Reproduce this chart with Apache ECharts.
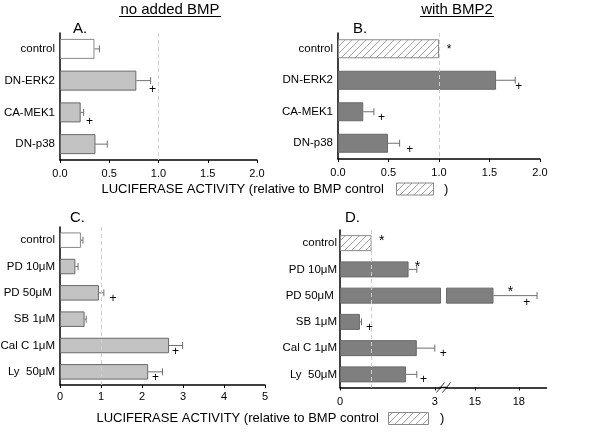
<!DOCTYPE html>
<html><head><meta charset="utf-8">
<script src="https://cdn.jsdelivr.net/npm/echarts@6/dist/echarts.min.js"></script>
<style>html,body{margin:0;padding:0;background:#fff}#c{width:600px;height:433px}</style>
</head><body><div id="c"></div>
<script>
// ---------- data ----------
const catsAB = ['control', 'DN-ERK2', 'CA-MEK1', 'DN-p38'];
const valA  = [0.35, 0.775, 0.21, 0.36];
const errA  = [0.05, 0.145, 0.03, 0.12];
const plusA = [null, 0.94, 0.30, null];

const valB  = [1.0, 1.565, 0.25, 0.495];
const errB  = [0, 0.19, 0.105, 0.115];
const plusB = [null, 1.79, 0.43, 0.71];
const starB = [1.10, null, null, null];

const catsCD = ['control', 'PD 10\u03bcM', 'PD 50\u03bcM ', 'SB 1\u03bcM', 'Cal C 1\u03bcM', 'Ly  50\u03bcM'];
const valC  = [0.51, 0.375, 0.95, 0.60, 2.66, 2.15];
const errC  = [0.05, 0.065, 0.12, 0.04, 0.33, 0.35];
const plusC = [null, null, 1.29, null, 2.82, 2.33];

const valD  = [1.0, 2.17, 16.27, 0.63, 2.43, 2.09];
const errD  = [0, 0.26, 2.98, 0.05, 0.57, 0.34];
const plusD = [null, null, 18.54, 0.93, 3.27, 2.64];
const starD = [1.32, 2.45, 17.43, null, null, null];

const ticksA = [0, 0.5, 1.0, 1.5, 2.0];
const ticksC = [0, 1, 2, 3, 4, 5];
const ticksD1 = [0, 3];
const ticksD2 = [15, 18];
const breakLow = 3.18, breakHigh = 13.05, axisEndD = 19.9;

// ---------- style ----------
const FF = 'Liberation Sans, Arial, Helvetica, sans-serif';
const LIGHT = '#c3c3c3', DARK = '#7f7f7f', EDGE = '#6a6a6a', ERR = '#6f6f6f';

function hatch(step) {
  const c = document.createElement('canvas');
  c.width = step; c.height = step;
  const g = c.getContext('2d');
  g.fillStyle = '#fff'; g.fillRect(0, 0, step, step);
  g.strokeStyle = '#8c8c8c'; g.lineWidth = 0.8;
  g.beginPath();
  g.moveTo(0, step); g.lineTo(step, 0);
  g.moveTo(-1, 1); g.lineTo(1, -1);
  g.moveTo(step - 1, step + 1); g.lineTo(step + 1, step - 1);
  g.stroke();
  return c;
}
const hatchCanvas = hatch(7);
const hatchFill = { image: hatchCanvas, repeat: 'repeat' };

const L = {
  A: { left: 60, top: 33, width: 197, height: 127 },
  B: { left: 338, top: 33, width: 202, height: 126 },
  C: { left: 60, top: 227, width: 205, height: 158 },
  D1: { left: 340, top: 230, width: 100.5, height: 157.5 },
  D2: { left: 446.5, top: 230, width: 100, height: 157.5 }
};

const grids = ['A', 'B', 'C', 'D1', 'D2'].map(k => Object.assign({ outerBoundsMode: 'none', containLabel: false }, L[k]));

function xAxis(gi, min, max, ticks, fmt, margin) {
  return {
    type: 'value', gridIndex: gi, min: min, max: max,
    axisLine: { show: true, lineStyle: { color: '#000', width: 1.5 } },
    axisTick: { show: true, length: 3, lineStyle: { color: '#000' }, customValues: ticks },
    axisLabel: { customValues: ticks, formatter: fmt, color: '#000', fontSize: 11, fontFamily: FF, margin: margin },
    splitLine: { show: false }
  };
}
function yAxis(gi, cats, show, margin) {
  return {
    type: 'category', gridIndex: gi, data: cats, inverse: true, show: show,
    axisLine: { show: true, onZero: false, lineStyle: { color: '#000', width: 1.5 } },
    axisTick: { show: false },
    axisLabel: { color: '#000', fontSize: 11.5, fontFamily: FF, margin: margin }
  };
}

function barData(vals, firstStyle, fill, only) {
  return vals.map((v, i) => {
    if (only !== undefined && i !== only) return '-';
    if (i === 0) return { value: v, itemStyle: firstStyle };
    return { value: v, itemStyle: { color: fill, borderColor: EDGE, borderWidth: 1 } };
  });
}
function barSeries(gi, data, width, dashed) {
  const s = {
    type: 'bar', xAxisIndex: gi, yAxisIndex: gi, data: data, barWidth: width, clip: true, z: 2,
    silent: true, animation: false
  };
  if (dashed) {
    s.markLine = {
      silent: true, symbol: 'none', label: { show: false },
      lineStyle: { type: [4, 3], color: '#cfcfcf', width: 1 },
      data: [{ xAxis: 1 }]
    };
  }
  return s;
}
function errSeries(gi, vals, errs, only, skip) {
  const data = [];
  vals.forEach((v, i) => {
    if (!(errs[i] > 0)) return;
    if (only !== undefined && i !== only) return;
    if (skip !== undefined && i === skip) return;
    data.push([v, errs[i], i]);
  });
  return {
    type: 'custom', xAxisIndex: gi, yAxisIndex: gi, data: data, z: 3, silent: true, animation: false,
    clip: false,
    encode: { x: 0, y: 2 },
    renderItem: function (params, api) {
      const v = api.value(0), e = api.value(1), c = api.value(2);
      const p0 = api.coord([v, c]);
      const p1 = api.coord([v + e, c]);
      const st = { stroke: ERR, lineWidth: 1 };
      return { type: 'group', children: [
        { type: 'line', shape: { x1: p0[0], y1: p0[1], x2: p1[0], y2: p1[1] }, style: st },
        { type: 'line', shape: { x1: p1[0], y1: p1[1] - 3.5, x2: p1[0], y2: p1[1] + 3.5 }, style: st }
      ] };
    }
  };
}
function markSeries(gi, xs, ch, dy, size, only, skip) {
  const data = [];
  xs.forEach((x, i) => {
    if (x === null) return;
    if (only !== undefined && i !== only) return;
    if (skip !== undefined && i === skip) return;
    data.push([x, i]);
  });
  return {
    type: 'custom', xAxisIndex: gi, yAxisIndex: gi, data: data, z: 4, silent: true, animation: false,
    clip: false, encode: { x: 0, y: 1 },
    renderItem: function (params, api) {
      const p = api.coord([api.value(0), api.value(1)]);
      return { type: 'text', x: p[0], y: p[1] + dy,
        style: { text: ch, fill: '#000', fontSize: size, fontFamily: FF, align: 'center', verticalAlign: 'middle' } };
    }
  };
}

const whiteFirst = { color: '#fff', borderColor: '#888', borderWidth: 1 };
const hatchFirst = { color: hatchFill, borderColor: '#8a8a8a', borderWidth: 1 };
const fmt1 = v => v.toFixed(1);
const fmt0 = v => String(Math.round(v));

const series = [
  barSeries(0, barData(valA, whiteFirst, LIGHT), 20, true),
  errSeries(0, valA, errA),
  markSeries(0, plusA, '+', 9, 12),

  barSeries(1, barData(valB, hatchFirst, DARK), 19, true),
  errSeries(1, valB, errB),
  markSeries(1, plusB, '+', 6, 12),
  markSeries(1, starB, '*', 1, 12),

  barSeries(2, barData(valC, whiteFirst, LIGHT), 15.5, true),
  errSeries(2, valC, errC),
  markSeries(2, plusC, '+', 6, 12),

  barSeries(3, barData(valD, hatchFirst, DARK), 16, true),
  errSeries(3, valD, errD, undefined, 2),
  markSeries(3, plusD, '+', 5.5, 12, undefined, 2),
  markSeries(3, starD, '*', -2, 14, undefined, 2),

  barSeries(4, barData(valD, hatchFirst, DARK, 2), 16, false),
  errSeries(4, valD, errD, 2),
  markSeries(4, plusD, '+', 7, 12, 2),
  markSeries(4, starD, '*', -3, 14, 2)
];

// ---------- decorations (text, titles) ----------
function t(text, x, y, size, align) {
  return { type: 'text', x: x, y: y, silent: true,
    style: { text: text, fill: '#000', fontSize: size, fontFamily: FF, align: align || 'left', verticalAlign: 'middle' } };
}
function hline(x1, x2, y, w) {
  return { type: 'line', silent: true, shape: { x1: x1, y1: y, x2: x2, y2: y }, style: { stroke: '#000', lineWidth: w || 1 } };
}
function axisTitle(x, y, boxX, boxW, parenX) {
  return [
    t('LUCIFERASE ACTIVITY (relative to BMP control', x, y, 13),
    { type: 'rect', silent: true, shape: { x: boxX, y: y - 6, width: boxW, height: 12 },
      style: { fill: hatchFill, stroke: '#8a8a8a', lineWidth: 1 } },
    t(')', parenX, y, 13)
  ];
}
const axisY = L.D1.top + L.D1.height;
const gapL = L.D1.left + L.D1.width, gapR = L.D2.left;
const gapC = (gapL + gapR) / 2;

const graphic = [].concat(
  [t('no added BMP', 170, 9.5, 15, 'center'), hline(119, 221, 16.5, 1),
   t('with BMP2', 457, 9.5, 15, 'center'), hline(420, 494, 16.5, 1),
   t('A.', 73, 29, 15), t('B.', 353, 29, 15), t('C.', 70, 218, 15), t('D.', 345, 218, 15)],
  axisTitle(101.5, 189, 396.5, 37, 444),
  axisTitle(96.5, 418.5, 388.5, 40, 440),
  [hline(gapL - 1, gapR + 1, axisY, 1.5),
   { type: 'line', silent: true, shape: { x1: gapC - 7, y1: axisY + 5, x2: gapC + 1, y2: axisY - 5 }, style: { stroke: '#333', lineWidth: 1 } },
   { type: 'line', silent: true, shape: { x1: gapC - 1, y1: axisY + 5, x2: gapC + 7, y2: axisY - 5 }, style: { stroke: '#333', lineWidth: 1 } }]
);

const option = {
  backgroundColor: '#fff',
  animation: false,
  grid: grids,
  xAxis: [
    xAxis(0, 0, 2, ticksA, fmt1, 8),
    xAxis(1, 0, 2, ticksA, fmt1, 8),
    xAxis(2, 0, 5, ticksC, fmt0, 6),
    xAxis(3, 0, breakLow, ticksD1, fmt0, 9),
    xAxis(4, breakHigh, axisEndD, ticksD2, fmt0, 9)
  ],
  yAxis: [
    yAxis(0, catsAB, true, 5),
    yAxis(1, catsAB, true, 5),
    yAxis(2, catsCD, true, 5),
    yAxis(3, catsCD, true, 3),
    yAxis(4, catsCD, false, 3)
  ],
  series: series,
  graphic: graphic
};

const chart = echarts.init(document.getElementById('c'), null, { renderer: 'canvas' });
chart.setOption(option);
</script>
</body></html>
